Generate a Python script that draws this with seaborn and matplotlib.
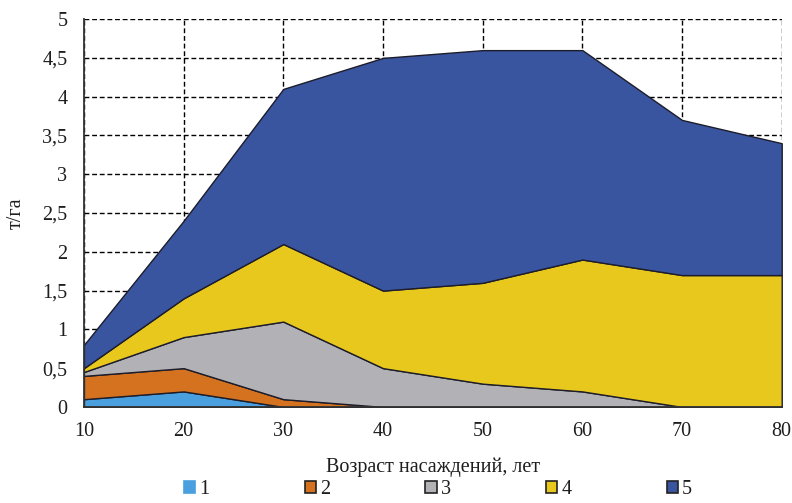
import matplotlib
matplotlib.use("Agg")
import matplotlib.pyplot as plt
from matplotlib.patches import Patch
import seaborn as sns
import pandas as pd

# Stand age, years
ages = [10, 20, 30, 40, 50, 60, 70, 80]

# Biomass by group, t/ha (stacked)
group_1 = [0.1, 0.2, 0.0, 0.0, 0.0, 0.0, 0.0, 0.0]
group_2 = [0.3, 0.3, 0.1, 0.0, 0.0, 0.0, 0.0, 0.0]
group_3 = [0.05, 0.4, 1.0, 0.5, 0.3, 0.2, 0.0, 0.0]
group_4 = [0.05, 0.5, 1.0, 1.0, 1.3, 1.7, 1.7, 1.7]
group_5 = [0.3, 1.0, 2.0, 3.0, 3.0, 2.7, 2.0, 1.7]

series_names = ["1", "2", "3", "4", "5"]
colors = ["#4A9FDE", "#D4721F", "#B2B1B6", "#E8C81D", "#3A55A0"]

y_ticks = [0, 0.5, 1, 1.5, 2, 2.5, 3, 3.5, 4, 4.5, 5]
y_tick_labels = ["0", "0,5", "1", "1,5", "2", "2,5", "3", "3,5", "4", "4,5", "5"]
x_ticks = [10, 20, 30, 40, 50, 60, 70, 80]

df = pd.DataFrame({"age": ages, "1": group_1, "2": group_2, "3": group_3,
                   "4": group_4, "5": group_5})

sns.set_theme(style="white")
plt.rcParams["font.family"] = ["Liberation Serif", "DejaVu Serif"]

text_color = "#1e1e1e"
fs = 14.5

fig = plt.figure(figsize=(7.92, 5.03), dpi=100)
ax = fig.add_axes([0.106, 0.191, 0.881, 0.771])

ax.grid(True, linestyle=(0, (3.5, 2)), color="black", linewidth=1.0)
ax.set_axisbelow(True)

ax.stackplot(df["age"], *[df[n] for n in series_names], colors=colors,
             edgecolor="#1c1c2a", linewidth=1.0, zorder=2)

ax.set_xlim(10, 80)
ax.set_ylim(0, 5)
ax.set_xticks(x_ticks)
ax.set_yticks(y_ticks)
ax.set_yticklabels(y_tick_labels)
ax.tick_params(axis="both", length=0, labelsize=fs, colors=text_color)
ax.tick_params(axis="x", pad=11)
ax.tick_params(axis="y", pad=12)

for side in ["top", "right"]:
    ax.spines[side].set_visible(False)
for side in ["left", "bottom"]:
    ax.spines[side].set_visible(True)
    ax.spines[side].set_color("#333333")
    ax.spines[side].set_linewidth(1.3)
    ax.spines[side].set_zorder(3)

ax.set_xlabel("Возраст насаждений, лет", fontsize=fs, color=text_color,
              labelpad=12)
ax.set_ylabel("т/га", fontsize=fs, color=text_color, labelpad=12)

handles = []
for i, (name, c) in enumerate(zip(series_names, colors)):
    ec = c if i == 0 else "#222222"
    handles.append(Patch(facecolor=c, edgecolor=ec, linewidth=1.2, label=name))
leg = fig.legend(handles=handles, loc="lower center", ncol=5, frameon=False,
                 bbox_to_anchor=(0.553, -0.028), fontsize=fs, handlelength=0.55,
                 handleheight=0.55, handletextpad=0.2, columnspacing=4.75)
for t in leg.get_texts():
    t.set_color(text_color)

fig.savefig("out.png", dpi=100)
